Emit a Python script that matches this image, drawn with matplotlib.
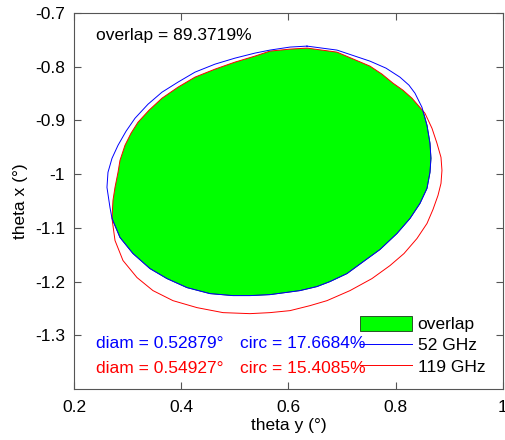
import numpy as np
import matplotlib.pyplot as plt
from matplotlib.patches import Polygon, Patch
from matplotlib.lines import Line2D

plt.rcParams['font.family'] = ['Liberation Sans', 'DejaVu Sans']
plt.rcParams['font.size'] = 12.5

# beam contours (theta y, theta x) in degrees
blue_ty = [0.6345, 0.6904, 0.7520, 0.7818, 0.8079, 0.8247, 0.8359, 0.8489, 0.8583, 0.8639, 0.8657, 0.8639,
           0.8583, 0.8452, 0.8266, 0.8023, 0.7706, 0.7371, 0.7091, 0.6774, 0.6531, 0.6214,
           0.5655, 0.5282, 0.4965, 0.4536, 0.4107, 0.3734, 0.3417, 0.3100, 0.2858,
           0.2709, 0.2671, 0.2615, 0.2634, 0.2709, 0.2821, 0.2970, 0.3138, 0.3380, 0.3641,
           0.3939, 0.4256, 0.4629, 0.5002, 0.5375, 0.5655, 0.6028]
blue_tx = [-0.7616, -0.7690, -0.7896, -0.8026, -0.8194, -0.8343, -0.8493, -0.8754, -0.9090, -0.9425, -0.9705, -0.9966,
           -1.0265, -1.0545, -1.0825, -1.1105, -1.1403, -1.1646, -1.1851, -1.2000, -1.2093, -1.2168,
           -1.2243, -1.2261, -1.2261, -1.2224, -1.2112, -1.1944, -1.1758, -1.1478, -1.1179,
           -1.0825, -1.0619, -1.0246, -0.9966, -0.9705, -0.9463, -0.9202, -0.8959, -0.8698, -0.8474,
           -0.8287, -0.8101, -0.7952, -0.7840, -0.7746, -0.7690, -0.7634]

red_ty = [0.6345, 0.6904, 0.7520, 0.7744, 0.7949, 0.8135, 0.8303, 0.8545, 0.8676, 0.8769, 0.8844, 0.8862,
          0.8844, 0.8788, 0.8695, 0.8583, 0.8396, 0.8154, 0.7893, 0.7557, 0.7147, 0.6718,
          0.6401, 0.6028, 0.5655, 0.5282, 0.4779, 0.4294, 0.3846, 0.3473, 0.3175,
          0.2914, 0.2765, 0.2709, 0.2727, 0.2765, 0.2821, 0.2858, 0.2951, 0.3063,
          0.3193, 0.3399, 0.3641, 0.3939, 0.4256, 0.4629, 0.5002, 0.5375, 0.5655, 0.6028]
red_tx = [-0.7653, -0.7728, -0.7989, -0.8138, -0.8306, -0.8437, -0.8586, -0.8866, -0.9146, -0.9425, -0.9687, -0.9929,
          -1.0172, -1.0396, -1.0657, -1.0918, -1.1198, -1.1478, -1.1702, -1.1944, -1.2168, -1.2355,
          -1.2448, -1.2541, -1.2578, -1.2597, -1.2578, -1.2485, -1.2355, -1.2168, -1.1925,
          -1.1608, -1.1235, -1.0825, -1.0489, -1.0246, -0.9966, -0.9743, -0.9463, -0.9239,
          -0.9034, -0.8810, -0.8586, -0.8381, -0.8194, -0.8045, -0.7914, -0.7802, -0.7709, -0.7672]

overlap = 89.3719
diam = [0.52879, 0.54927]
circ = [17.6684, 15.4085]
labels = ['52 GHz', '119 GHz']
colors = ['#0000ff', '#ff0000']

fig = plt.figure(figsize=(5.05, 4.4), dpi=100)
ax = fig.add_axes([0.1465, 0.1159, 0.8495, 0.8545])

red = Polygon(np.column_stack([red_ty, red_tx]), closed=True, fill=False,
              ec=colors[1], lw=0.7, zorder=3)
ax.add_patch(red)
ax.plot(blue_ty + blue_ty[:1], blue_tx + blue_tx[:1], color=colors[0], lw=0.7, zorder=3)

# overlap = blue contour clipped by the red one
green = Polygon(np.column_stack([blue_ty, blue_tx]), closed=True, fc='#00ff00',
                ec='#1a5a1a', lw=0.6, zorder=2)
ax.add_patch(green)
green.set_clip_path(red)

ax.text(0.241, -0.741, 'overlap = %.4f%%' % overlap, va='center')
ax.text(0.241, -1.316, 'diam = %.5f°' % diam[0], color=colors[0], va='center')
ax.text(0.241, -1.361, 'diam = %.5f°' % diam[1], color=colors[1], va='center')
ax.text(0.5096, -1.316, 'circ = %.4f%%' % circ[0], color=colors[0], va='center')
ax.text(0.5096, -1.361, 'circ = %.4f%%' % circ[1], color=colors[1], va='center')

handles = [Patch(fc='#00ff00', ec='#1a3a1a', lw=0.6),
           Line2D([], [], color=colors[0], lw=0.7),
           Line2D([], [], color=colors[1], lw=0.7)]
ax.legend(handles, ['overlap'] + labels, loc='lower right', frameon=False,
          bbox_to_anchor=(0.975, 0.02), borderaxespad=0, handlelength=2.95,
          handleheight=1.0, handletextpad=0.35, labelspacing=0.25)

ax.set_xlim(0.2, 1.0)
ax.set_ylim(-1.4, -0.7)
ax.set_xticks([0.2, 0.4, 0.6, 0.8, 1.0])
ax.set_xticklabels(['0.2', '0.4', '0.6', '0.8', '1'])
ax.set_yticks([-1.3, -1.2, -1.1, -1.0, -0.9, -0.8, -0.7])
ax.set_yticklabels(['-1.3', '-1.2', '-1.1', '-1', '-0.9', '-0.8', '-0.7'])
ax.tick_params(direction='in', top=True, right=True, length=5, color='#555555')
ax.tick_params(axis='x', pad=8)
ax.tick_params(axis='y', pad=6.5)
for s in ax.spines.values():
    s.set_color('#555555')
ax.set_xlabel('theta y (°)', labelpad=2)
ax.set_ylabel('theta x (°)', labelpad=5)

fig.savefig('out.png', dpi=100)
